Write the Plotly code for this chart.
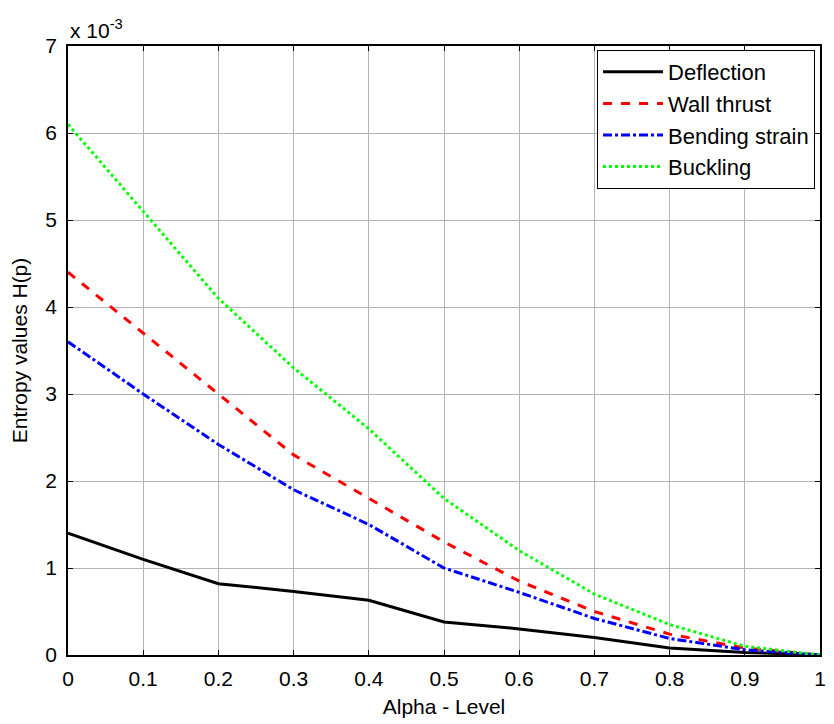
import plotly.graph_objects as go

alpha = [0, 0.1, 0.2, 0.3, 0.4, 0.5, 0.6, 0.7, 0.8, 0.9, 1.0]
deflection = [1.40, 1.10, 0.82, 0.73, 0.63, 0.38, 0.30, 0.20, 0.08, 0.03, 0.0]
wall_thrust = [4.40, 3.70, 3.00, 2.30, 1.80, 1.30, 0.85, 0.50, 0.24, 0.08, 0.0]
bending_strain = [3.60, 3.00, 2.42, 1.90, 1.50, 1.00, 0.72, 0.42, 0.19, 0.06, 0.0]
buckling = [6.10, 5.10, 4.10, 3.30, 2.60, 1.80, 1.20, 0.70, 0.35, 0.10, 0.0]
scale = 1e-3
y_ticks = [0, 1, 2, 3, 4, 5, 6, 7]
x_ticks = [0, 0.1, 0.2, 0.3, 0.4, 0.5, 0.6, 0.7, 0.8, 0.9, 1]
x_ticklabels = ["0", "0.1", "0.2", "0.3", "0.4", "0.5", "0.6", "0.7", "0.8", "0.9", "1"]

series = [
    ("Deflection", deflection, "#000000", "solid"),
    ("Wall thrust", wall_thrust, "#ff0000", "dash"),
    ("Bending strain", bending_strain, "#0000ff", "dashdot"),
    ("Buckling", buckling, "#00ff00", "dot"),
]

fig = go.Figure()
for name, vals, color, dash in series:
    fig.add_trace(go.Scatter(
        x=alpha, y=[v * scale for v in vals], mode="lines", name=name,
        line=dict(color=color, width=3, dash=dash),
    ))

font = "Liberation Sans, Arial, sans-serif"
fig.update_layout(
    width=834, height=724,
    margin=dict(l=68, r=8, t=46, b=69),
    paper_bgcolor="white", plot_bgcolor="white",
    font=dict(family=font, size=21, color="black"),
    showlegend=True,
    legend=dict(
        x=0.9934, y=0.9934, xanchor="right", yanchor="top",
        bgcolor="white", bordercolor="black", borderwidth=1,
        font=dict(family=font, size=22, color="black"),
        tracegroupgap=0, itemwidth=60,
    ),
    xaxis=dict(
        range=[0, 1], tickvals=x_ticks, ticktext=x_ticklabels,
        showgrid=True, gridcolor="#b4b4b4", gridwidth=1,
        showline=True, linecolor="black", linewidth=1.5, mirror="ticks",
        ticks="inside", ticklen=5, tickcolor="black",
        zeroline=False, ticklabelstandoff=4,
        title=dict(text="Alpha - Level", font=dict(size=21), standoff=10),
        tickfont=dict(size=21),
    ),
    yaxis=dict(
        range=[0, 7 * scale], tickvals=[t * scale for t in y_ticks],
        ticktext=[str(t) for t in y_ticks],
        showgrid=True, gridcolor="#b4b4b4", gridwidth=1,
        showline=True, linecolor="black", linewidth=1.5, mirror="ticks",
        ticks="inside", ticklen=5, tickcolor="black",
        zeroline=False, ticklabelstandoff=5,
        title=dict(text="Entropy values H(p)", font=dict(size=21), standoff=12),
        tickfont=dict(size=21),
    ),
    annotations=[dict(
        text="x 10<sup>-3</sup>", xref="paper", yref="paper",
        x=0, y=1, xanchor="left", yanchor="bottom", yshift=2,
        showarrow=False, font=dict(family=font, size=21, color="black"),
    )],
)

fig.write_html("out.html")
